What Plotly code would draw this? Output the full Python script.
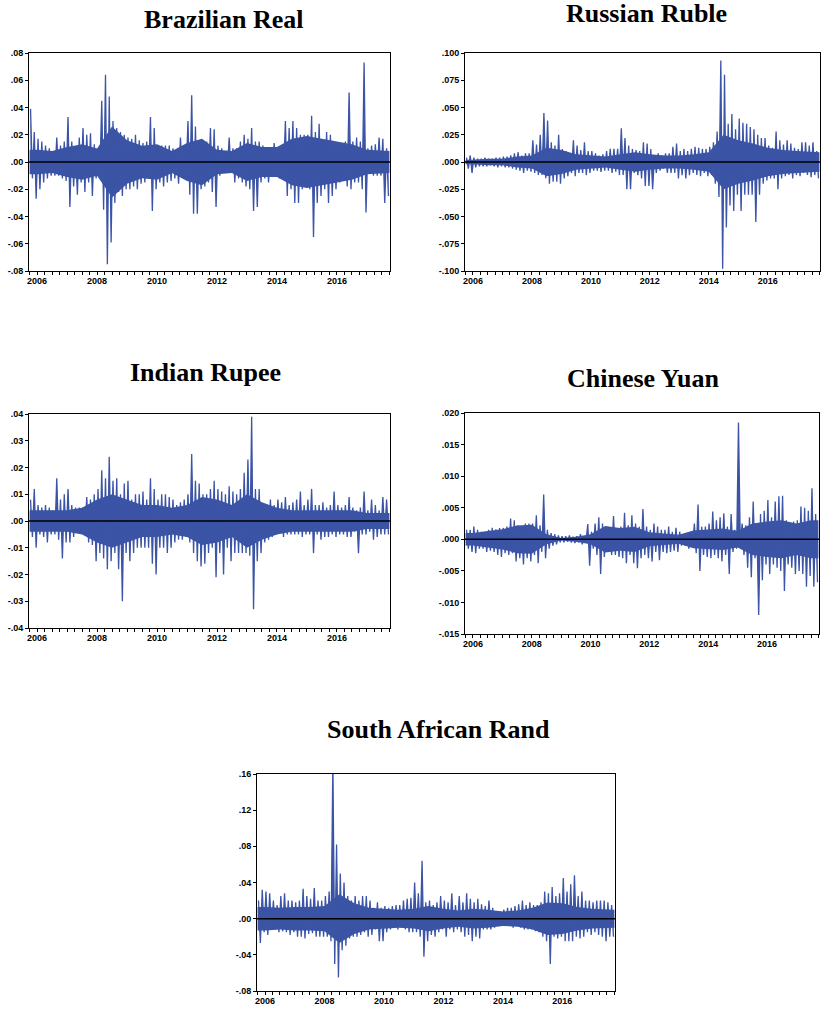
import plotly.graph_objects as go

# ---------------- data: 1/8-year period extremes of daily returns ----------------
N_PERIODS = 96
FIRST_PERIOD = 2006.25
PERIODS_PER_YEAR = 8
CORE_PER_YEAR = 2          # core band (bulk of daily moves) read per half-year

brl_hi = [.039, .022, .017, .015, .012, .010, .008, .018, .012, .015,
          .033, .015, .010, .018, .025, .020, .021, .013, .010, .045,
          .064, .048, .030, .025, .022, .020, .018, .017, .020, .016,
          .014, .015, .033, .025, .012, .012, .012, .012, .010, .006,
          .018, .012, .030, .049, .026, .015, .012, .015, .025, .024,
          .012, .010, .008, .018, .010, .010, .015, .020, .017, .025,
          .015, .015, .012, .010, .010, .014, .010, .012, .030, .025,
          .030, .025, .020, .020, .020, .034, .022, .028, .015, .022,
          .020, .012, .012, .013, .015, .051, .015, .018, .015, .073,
          .010, .012, .013, .018, .017, .010]
brl_lo = [-.012, -.027, -.020, -.015, -.012, -.010, -.010, -.010, -.012, -.014,
          -.033, -.018, -.024, -.015, -.022, -.015, -.025, -.012, -.008, -.035,
          -.075, -.059, -.030, -.022, -.025, -.020, -.020, -.018, -.020, -.016,
          -.015, -.012, -.036, -.020, -.015, -.018, -.015, -.014, -.012, -.016,
          -.010, -.012, -.024, -.038, -.038, -.020, -.018, -.015, -.022, -.033,
          -.010, -.007, -.006, -.008, -.015, -.012, -.015, -.018, -.020, -.036,
          -.033, -.015, -.012, -.015, -.010, -.010, -.012, -.010, -.025, -.020,
          -.030, -.030, -.020, -.018, -.020, -.055, -.030, -.025, -.020, -.030,
          -.025, -.020, -.015, -.012, -.018, -.020, -.015, -.015, -.020, -.037,
          -.008, -.010, -.010, -.010, -.030, -.025]
brl_core = [.009, .008, .011, .013, .010, .026, .016, .012, .013, .008, .014, .017,
            .009, .008, .014, .011, .011, .017, .019, .017, .015, .013, .009, .008]

rub_hi = [.004, .006, .004, .003, .003, .004, .003, .003, .004, .004,
          .005, .005, .006, .008, .009, .006, .008, .008, .020, .016,
          .025, .045, .038, .018, .015, .025, .012, .010, .008, .020,
          .015, .011, .018, .010, .010, .008, .006, .007, .010, .012,
          .012, .012, .031, .022, .015, .012, .011, .010, .018, .017,
          .012, .006, .008, .006, .008, .008, .014, .017, .010, .012,
          .010, .012, .014, .013, .012, .012, .014, .018, .028, .093,
          .080, .035, .044, .030, .040, .036, .035, .032, .030, .025,
          .022, .022, .015, .013, .028, .020, .016, .020, .017, .013,
          .012, .018, .018, .015, .018, .010]
rub_lo = [-.006, -.010, -.005, -.004, -.004, -.004, -.003, -.004, -.005, -.004,
          -.005, -.005, -.006, -.007, -.008, -.010, -.008, -.009, -.010, -.012,
          -.012, -.015, -.020, -.018, -.018, -.020, -.015, -.013, -.010, -.013,
          -.010, -.010, -.012, -.010, -.008, -.008, -.009, -.008, -.008, -.010,
          -.009, -.012, -.012, -.025, -.025, -.010, -.012, -.015, -.022, -.022,
          -.025, -.010, -.008, -.006, -.010, -.010, -.010, -.015, -.012, -.015,
          -.012, -.010, -.012, -.013, -.010, -.013, -.012, -.020, -.032, -.098,
          -.060, -.040, -.045, -.030, -.045, -.030, -.030, -.030, -.055, -.030,
          -.020, -.017, -.015, -.015, -.025, -.015, -.013, -.012, -.015, -.012,
          -.013, -.010, -.012, -.014, -.012, -.015]
rub_core = [.002, .003, .003, .005, .006, .013, .011, .007, .006, .005, .007, .009,
            .007, .006, .006, .007, .009, .025, .020, .017, .013, .011, .010, .009]

inr_hi = [.008, .012, .006, .005, .006, .005, .004, .016, .008, .010,
          .012, .006, .005, .005, .005, .009, .008, .010, .012, .019,
          .016, .024, .015, .016, .010, .014, .015, .008, .010, .010,
          .011, .008, .016, .012, .008, .010, .010, .009, .008, .006,
          .007, .008, .010, .025, .015, .014, .010, .010, .012, .015,
          .012, .011, .010, .013, .011, .010, .012, .018, .023, .039,
          .012, .012, .006, .006, .008, .006, .008, .007, .009, .006,
          .007, .008, .011, .006, .008, .012, .006, .006, .007, .005,
          .006, .011, .006, .005, .006, .009, .005, .004, .005, .011,
          .004, .008, .006, .004, .009, .008]
inr_lo = [-.006, -.010, -.005, -.006, -.008, -.005, -.005, -.007, -.014, -.008,
          -.008, -.006, -.004, -.004, -.005, -.008, -.009, -.015, -.012, -.014,
          -.018, -.015, -.012, -.018, -.030, -.012, -.015, -.012, -.010, -.010,
          -.010, -.010, -.016, -.020, -.010, -.010, -.012, -.010, -.008, -.007,
          -.007, -.006, -.008, -.012, -.015, -.017, -.016, -.012, -.010, -.021,
          -.012, -.020, -.010, -.015, -.012, -.012, -.012, -.012, -.013, -.033,
          -.015, -.012, -.008, -.007, -.006, -.005, -.004, -.006, -.005, -.005,
          -.005, -.005, -.006, -.005, -.005, -.012, -.005, -.007, -.006, -.006,
          -.005, -.006, -.005, -.005, -.006, -.006, -.004, -.012, -.005, -.005,
          -.004, -.007, -.006, -.005, -.005, -.005]
inr_core = [.004, .004, .004, .005, .008, .010, .008, .006, .006, .005, .006, .009,
            .008, .006, .010, .007, .005, .004, .004, .004, .004, .004, .003, .003]

cny_hi = [.0015, .0015, .0020, .0015, .0012, .0012, .0015, .0018, .0016, .0018,
          .0018, .0020, .0033, .0030, .0022, .0015, .0025, .0025, .0025, .0038,
          .0022, .0071, .0015, .0010, .0008, .0006, .0005, .0005, .0006, .0004,
          .0005, .0008, .0005, .0024, .0012, .0025, .0035, .0025, .0015, .0015,
          .0037, .0018, .0020, .0042, .0022, .0038, .0025, .0020, .0048, .0020,
          .0015, .0025, .0020, .0015, .0015, .0020, .0012, .0018, .0012, .0008,
          .0010, .0012, .0025, .0055, .0020, .0020, .0025, .0044, .0030, .0035,
          .0041, .0020, .0040, .0015, .0185, .0025, .0022, .0035, .0060, .0020,
          .0040, .0045, .0062, .0035, .0060, .0068, .0069, .0030, .0025, .0028,
          .0030, .0052, .0050, .0045, .0081, .0040]
cny_lo = [-.0015, -.0020, -.0022, -.0015, -.0015, -.0020, -.0018, -.0020, -.0025, -.0028,
          -.0022, -.0025, -.0022, -.0035, -.0030, -.0040, -.0030, -.0035, -.0025, -.0038,
          -.0020, -.0030, -.0015, -.0010, -.0008, -.0005, -.0005, -.0004, -.0005, -.0006,
          -.0005, -.0008, -.0005, -.0042, -.0015, -.0025, -.0055, -.0028, -.0020, -.0025,
          -.0025, -.0028, -.0030, -.0038, -.0025, -.0038, -.0046, -.0030, -.0025, -.0030,
          -.0035, -.0020, -.0033, -.0020, -.0022, -.0020, -.0018, -.0020, -.0010, -.0010,
          -.0015, -.0012, -.0022, -.0050, -.0025, -.0028, -.0030, -.0025, -.0030, -.0035,
          -.0025, -.0055, -.0020, -.0015, -.0008, -.0025, -.0045, -.0060, -.0030, -.0120,
          -.0065, -.0040, -.0055, -.0040, -.0045, -.0050, -.0082, -.0040, -.0045, -.0055,
          -.0050, -.0055, -.0075, -.0058, -.0075, -.0068]
cny_core = [.0010, .0013, .0016, .0022, .0023, .0008, .0002, .0004, .0008, .0021, .0018, .0020,
            .0011, .0009, .0007, .0014, .0016, .0017, .0013, .0025, .0028, .0030, .0025, .0030]

zar_hi = [.020, .032, .030, .028, .020, .015, .025, .028, .020, .020,
          .018, .020, .033, .025, .022, .034, .020, .020, .025, .030,
          .173, .082, .050, .040, .025, .020, .025, .020, .025, .025,
          .020, .012, .018, .012, .014, .012, .014, .015, .015, .020,
          .022, .023, .040, .028, .064, .018, .020, .015, .018, .025,
          .020, .018, .028, .015, .025, .018, .028, .022, .018, .022,
          .016, .014, .020, .012, .008, .008, .010, .012, .012, .014,
          .016, .020, .015, .018, .015, .015, .018, .030, .028, .035,
          .025, .028, .045, .030, .038, .048, .025, .030, .020, .020,
          .018, .020, .020, .020, .018, .015]
zar_lo = [-.027, -.015, -.018, -.012, -.012, -.015, -.014, -.015, -.018, -.015,
          -.020, -.020, -.022, -.017, -.016, -.020, -.020, -.020, -.020, -.025,
          -.050, -.065, -.035, -.030, -.022, -.020, -.020, -.018, -.015, -.020,
          -.018, -.012, -.025, -.025, -.015, -.012, -.010, -.012, -.010, -.012,
          -.015, -.015, -.015, -.020, -.042, -.025, -.018, -.020, -.015, -.012,
          -.020, -.012, -.015, -.012, -.015, -.020, -.018, -.025, -.020, -.022,
          -.012, -.012, -.012, -.010, -.008, -.008, -.008, -.008, -.010, -.008,
          -.010, -.012, -.012, -.012, -.014, -.015, -.020, -.025, -.050, -.020,
          -.022, -.020, -.025, -.025, -.025, -.020, -.022, -.020, -.015, -.018,
          -.015, -.018, -.020, -.025, -.020, -.020]
zar_core = [.013, .012, .013, .013, .014, .027, .017, .012, .011, .010, .011, .014,
            .011, .009, .011, .010, .008, .009, .012, .018, .017, .013, .011, .010]

year_labels = ["2006", "2008", "2010", "2012", "2014", "2016"]
year_label_pos = [2006.5, 2008.5, 2010.5, 2012.5, 2014.5, 2016.5]

brl_ticks = [.08, .06, .04, .02, 0, -.02, -.04, -.06, -.08]
brl_text = [".08", ".06", ".04", ".02", ".00", "-.02", "-.04", "-.06", "-.08"]
rub_ticks = [.1, .075, .05, .025, 0, -.025, -.05, -.075, -.1]
rub_text = [".100", ".075", ".050", ".025", ".000", "-.025", "-.050", "-.075", "-.100"]
inr_ticks = [.04, .03, .02, .01, 0, -.01, -.02, -.03, -.04]
inr_text = [".04", ".03", ".02", ".01", ".00", "-.01", "-.02", "-.03", "-.04"]
cny_ticks = [.02, .015, .01, .005, 0, -.005, -.01, -.015]
cny_text = [".020", ".015", ".010", ".005", ".000", "-.005", "-.010", "-.015"]
zar_ticks = [.16, .12, .08, .04, 0, -.04, -.08]
zar_text = [".16", ".12", ".08", ".04", ".00", "-.04", "-.08"]

# ---------------- layout -----------------
W, H = 823, 1011
BLUE = "#3B54A5"
X_RANGE = [2006.23, 2018.27]


def px_dom_x(a, b):
    return [a / W, b / W]


def px_dom_y(top, bottom):
    return [1 - bottom / H, 1 - top / H]


panels = [
    dict(title="Brazilian Real", hi=brl_hi, lo=brl_lo, core=brl_core, ticks=brl_ticks, text=brl_text,
         yr=[-.08, .08], dx=px_dom_x(29, 390), dy=px_dom_y(53, 271), tx=224, ty=20),
    dict(title="Russian Ruble", hi=rub_hi, lo=rub_lo, core=rub_core, ticks=rub_ticks, text=rub_text,
         yr=[-.1, .1], dx=px_dom_x(465, 820), dy=px_dom_y(53, 271), tx=646, ty=14),
    dict(title="Indian Rupee", hi=inr_hi, lo=inr_lo, core=inr_core, ticks=inr_ticks, text=inr_text,
         yr=[-.04, .04], dx=px_dom_x(29, 390), dy=px_dom_y(414, 628), tx=205, ty=372),
    dict(title="Chinese Yuan", hi=cny_hi, lo=cny_lo, core=cny_core, ticks=cny_ticks, text=cny_text,
         yr=[-.015, .02], dx=px_dom_x(465, 819), dy=px_dom_y(413, 634), tx=643, ty=378),
    dict(title="South African Rand", hi=zar_hi, lo=zar_lo, core=zar_core, ticks=zar_ticks, text=zar_text,
         yr=[-.08, .16], dx=px_dom_x(257, 615), dy=px_dom_y(774, 991), tx=438, ty=729),
]

fig = go.Figure()
tick_font = dict(family="Liberation Sans Narrow, Arial Narrow, Liberation Sans, Arial",
                 size=9, color="black", weight="bold")
annotations = []

for k, p in enumerate(panels, start=1):
    xa = "x" if k == 1 else f"x{k}"
    ya = "y" if k == 1 else f"y{k}"

    # core band (bulk of the daily returns): one reading per half-year, at its middle
    n_core = len(p["core"])
    cx = [FIRST_PERIOD] + [FIRST_PERIOD + (j + 0.5) / CORE_PER_YEAR for j in range(n_core)] \
        + [FIRST_PERIOD + n_core / CORE_PER_YEAR]
    cy = [p["core"][0]] + list(p["core"]) + [p["core"][-1]]
    for sign in (1, -1):
        fig.add_trace(go.Scatter(x=cx, y=[sign * v for v in cy], mode="lines",
                                 line=dict(color=BLUE, width=0),
                                 fill="tozeroy", fillcolor=BLUE,
                                 xaxis=xa, yaxis=ya, showlegend=False, hoverinfo="skip"))

    # spikes: each period's maximum and minimum daily return
    xs, ys = [], []
    for i in range(N_PERIODS):
        t = FIRST_PERIOD + i / PERIODS_PER_YEAR
        xs += [t + 0.25 / PERIODS_PER_YEAR, t + 0.75 / PERIODS_PER_YEAR]
        ys += [p["hi"][i], p["lo"][i]]
    fig.add_trace(go.Scatter(x=xs, y=ys, mode="lines", fill="tozeroy",
                             line=dict(color=BLUE, width=1.3), fillcolor=BLUE,
                             xaxis=xa, yaxis=ya, showlegend=False, hoverinfo="skip"))
    fig.add_trace(go.Scatter(x=X_RANGE, y=[0, 0], mode="lines",
                             line=dict(color="black", width=1.5),
                             xaxis=xa, yaxis=ya, showlegend=False, hoverinfo="skip"))
    axis_common = dict(showline=True, mirror=True, linecolor="black", linewidth=1,
                       showgrid=False, zeroline=False, ticks="outside", automargin=False,
                       tickcolor="black", tickfont=tick_font)
    fig.layout[f"xaxis{'' if k == 1 else k}"] = dict(
        domain=p["dx"], anchor=ya, range=X_RANGE,
        tickmode="array", tickvals=year_label_pos, ticktext=year_labels,
        ticklen=0, ticklabelstandoff=1,
        minor=dict(tickmode="linear", tick0=2006.0, dtick=0.25, ticks="outside",
                   ticklen=3, tickcolor="black", showgrid=False),
        **axis_common)
    fig.layout[f"yaxis{'' if k == 1 else k}"] = dict(
        domain=p["dy"], anchor=xa, range=p["yr"],
        tickmode="array", tickvals=p["ticks"], ticktext=p["text"],
        ticklen=3, **axis_common)
    annotations.append(dict(text=p["title"], x=p["tx"] / W, y=1 - p["ty"] / H,
                            xref="paper", yref="paper", xanchor="center", yanchor="middle",
                            showarrow=False,
                            font=dict(family="Liberation Serif, Times New Roman, serif",
                                      size=26, color="black", weight="bold")))

fig.update_layout(width=W, height=H, margin=dict(l=0, r=0, t=0, b=0),
                  paper_bgcolor="white", plot_bgcolor="white",
                  annotations=annotations)

fig.write_html("out.html", config={"displayModeBar": False},
               post_script="document.body.style.margin='0';"
                           "document.body.style.overflow='hidden';")
